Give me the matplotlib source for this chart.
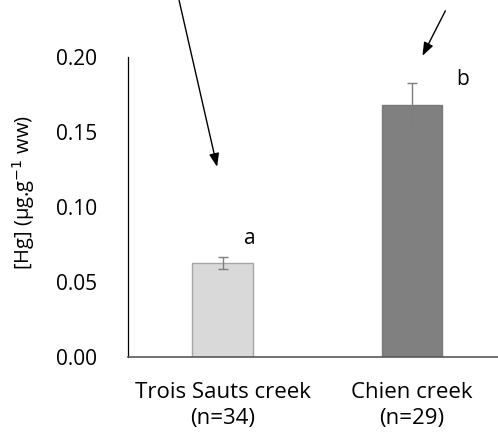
import matplotlib
matplotlib.use("Agg")
import matplotlib.pyplot as plt

categories = ["Trois Sauts creek\n(n=34)", "Chien creek\n(n=29)"]
means = [0.063, 0.168]
errors = [0.004, 0.015]
letters = ["a", "b"]
yticks = [0.00, 0.05, 0.10, 0.15, 0.20]

plt.rcParams['font.family'] = ['Open Sans', 'DejaVu Sans']

fig = plt.figure(figsize=(4.98, 4.41), dpi=100)
ax = fig.add_axes([0.257, 0.19, 0.76, 0.68])

x = list(range(len(categories)))
ax.bar(x, means, width=0.32, color=["#d9d9d9", "#808080"],
       edgecolor=["#a6a6a6", "#7a7a7a"], linewidth=1.0, zorder=2)
ax.errorbar(x, means, yerr=errors, fmt='none', ecolor="#7f7f7f",
            elinewidth=1.0, capsize=3.5, capthick=1.0, zorder=3)

ax.set_xlim(-0.5, 1.5)
ax.set_ylim(0, 0.20)
ax.set_yticks(yticks)
ax.set_yticklabels([f"{v:.2f}" for v in yticks], fontsize=15)
ax.set_xticks(x)
ax.set_xticklabels(categories, fontsize=16, linespacing=1.28)
ax.tick_params(axis='y', length=0, pad=22)
ax.tick_params(axis='x', length=0, pad=18)
for s in ["top", "right"]:
    ax.spines[s].set_visible(False)
ax.spines["left"].set_color("#000000")
ax.spines["bottom"].set_color("#595959")
ax.spines["left"].set_linewidth(0.9)
ax.spines["bottom"].set_linewidth(1.2)

ax.set_ylabel(r"[Hg] (µg.g$^{-1}$ ww)", fontsize=14.5)
ax.yaxis.set_label_coords(-0.24, 0.55)

# significance letters
ax.text(0.146, 0.079, letters[0], fontsize=15, ha='center', va='center')
ax.text(1.27, 0.185, letters[1], fontsize=15, ha='center', va='center')

# arrows
ax.annotate("", xy=(-0.029, 0.127), xytext=(-0.23, 0.238),
            xycoords='data', textcoords='data', annotation_clip=False,
            arrowprops=dict(arrowstyle='-|>,head_length=0.8,head_width=0.3',
                            color='black', lw=1.0, shrinkA=0, shrinkB=0))
ax.annotate("", xy=(1.056, 0.201), xytext=(1.177, 0.231),
            xycoords='data', textcoords='data', annotation_clip=False,
            arrowprops=dict(arrowstyle='-|>,head_length=0.8,head_width=0.3',
                            color='black', lw=1.0, shrinkA=0, shrinkB=0))

fig.savefig("out.png", dpi=100)
